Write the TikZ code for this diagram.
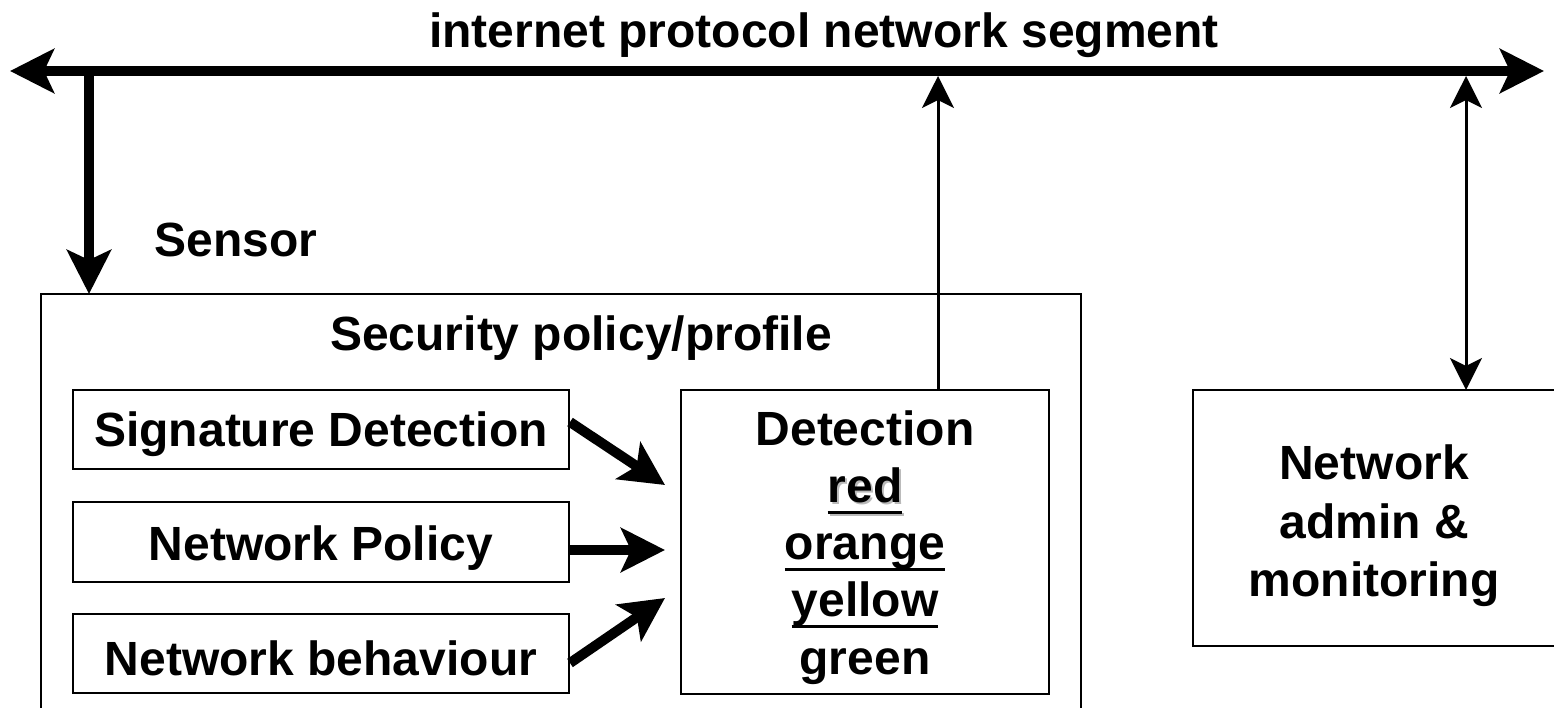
\documentclass[tikz,border=0pt]{standalone}
\usepackage{fontspec}
\setmainfont{Liberation Sans}
\usetikzlibrary{arrows.meta,calc}

% word with a fixed-depth underline (crosses descenders)
\newcommand\ulword[1]{\setbox0\hbox{#1}\rlap{\rule[-12pt]{\wd0}{3.5pt}}\box0}

\begin{document}
\begin{tikzpicture}[x=1pt,y=-1pt,
  lbl/.style={font=\bfseries\fontsize{48}{57.5}\selectfont, inner sep=0pt, anchor=base},
  frame/.style={draw, line width=2.5pt, inner sep=0pt, outer sep=0pt, anchor=north west},
  bigtip/.tip={Stealth[length=44pt,width=44pt,inset=10pt]},
  smalltip/.tip={Stealth[length=32pt,width=32pt,inset=8pt]},
  bus/.style={line width=10pt, {bigtip}-{bigtip}},
  heavy/.style={line width=10pt, -{bigtip}},
  light/.style={line width=3pt, -{smalltip}},
  lighttwo/.style={line width=3pt, {smalltip}-{smalltip}},
]
\useasboundingbox (0,0) rectangle (1554,707);
\clip (0,0) rectangle (1554,707);

% boxes
\node[frame, minimum width=1040pt, minimum height=450pt] (sensor) at (41,294) {};
\node[frame, minimum width=496pt, minimum height=79pt] (sig) at (73,390) {};
\node[frame, minimum width=496pt, minimum height=80pt] (pol) at (73,502) {};
\node[frame, minimum width=496pt, minimum height=79pt] (beh) at (73,614) {};
\node[frame, minimum width=368pt, minimum height=304pt] (det) at (681,390) {};
\node[frame, minimum width=400pt, minimum height=256pt] (admin) at (1193,390) {};

% labels
\node[lbl] (title) at (824,47) {internet protocol network segment};
\node[lbl] (sensorlbl) at (236,256) {Sensor};
\node[lbl] (policylbl) at (581,350) {Security policy/profile};
\node[lbl] (siglbl) at (321,446) {Signature Detection};
\node[lbl] (pollbl) at (321,560) {Network Policy};
\node[lbl] (behlbl) at (321,675) {Network behaviour};
\node[lbl] (detlbl) at (865,445) {Detection};
\node[lbl, text=gray!55] (redshadow) at (867,504) {\ulword{red}};
\node[lbl] (redlbl) at (865,502) {\ulword{red}};
\node[lbl] (orangelbl) at (865,559) {\ulword{orange}};
\node[lbl] (yellowlbl) at (865,616) {\ulword{yellow}};
\node[lbl] (greenlbl) at (865,674) {green};
\node[lbl] (adm1) at (1374,479) {Network};
\node[lbl] (adm2) at (1374,538) {admin \&};
\node[lbl] (adm3) at (1374,596) {monitoring};

% network segment
\coordinate (busL) at (10,71);
\coordinate (busR) at (1544,71);
\draw[bus] (busL) -- (busR);

% taps on the segment
\coordinate (tapS) at (89,71);
\coordinate (tapD) at (938,76);
\coordinate (tapA) at (1466,76);
\draw[heavy] (tapS) -- (tapS |- sensor.north);
\draw[light] (tapD |- det.north) -- (tapD);
\draw[lighttwo] (tapA) -- (tapA |- admin.north);

% inputs to detection
\draw[heavy] ($(sig.east)+(1,-7.5)$) -- ($(det.west)+(-16,-57)$);
\draw[heavy] ($(pol.east)+(1,8)$) -- ($(det.west)+(-16,8)$);
\draw[heavy] ($(beh.east)+(1,9.5)$) -- ($(det.west)+(-16,56)$);
\end{tikzpicture}
\end{document}
